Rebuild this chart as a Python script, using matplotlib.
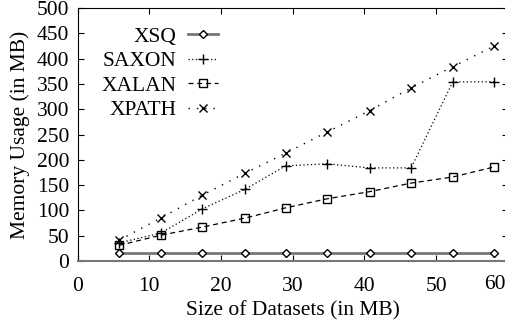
import numpy as np
import matplotlib
matplotlib.use("Agg")
import matplotlib.pyplot as plt

plt.rcParams['font.family'] = ['Liberation Serif', 'DejaVu Serif']
FS = 15.5
plt.rcParams['font.size'] = FS

# dataset sizes (MB)
sizes = [5.8, 11.6, 17.4, 23.4, 29.0, 34.8, 40.7, 46.5, 52.3, 58.1]

xsq = [15, 15, 15, 15, 15, 15, 15, 15, 15, 15]
saxon = [36, 55, 103, 142, 188, 192, 184, 184, 354, 354]
xalan = [31, 51, 67, 85, 105, 123, 137, 154, 166, 186]
xpath = [41, 85, 130, 174, 213, 255, 297, 342, 384, 425]

xticks = [0, 10, 20, 30, 40, 50, 60]
yticks = [0, 50, 100, 150, 200, 250, 300, 350, 400, 450, 500]

fig = plt.figure(figsize=(5.06, 3.23), dpi=100)
# right edge of the frame is just past the picture border, as in the original
ax = fig.add_axes([77.5/506, 62/323, 430.5/506, 253/323])

ax.plot(sizes, xsq, '-', color='#777777', lw=2, marker='D', ms=4,
        mfc='white', mec='black', mew=1, label='XSQ')
ax.plot(sizes, saxon, linestyle=(0, (1, 2)), color='black', lw=0.9,
        marker='+', ms=7, mew=1, label='SAXON')
ax.plot(sizes, xalan, linestyle=(0, (4, 3)), color='black', lw=0.9,
        marker='s', ms=6, mfc='none', mec='black', mew=1, label='XALAN')
ax.plot(sizes, xpath, linestyle=(0, (1, 5)), color='black', lw=1,
        marker='x', ms=6, mew=1, label='XPATH')

ax.set_xlim(0, 60)
ax.set_ylim(0, 500)
ax.set_xticks(xticks)
ax.set_xticklabels([str(t) for t in xticks[:-1]] + [''])
ax.set_yticks(yticks)
ax.tick_params(direction='in', top=True, right=True, length=4, width=0.8,
               labelsize=FS)
ax.tick_params(axis='x', pad=11.5)
ax.tick_params(axis='y', pad=6)
# last label sits a bit left and higher in the original
ax.annotate('60', xy=(60, 0), xycoords='data', xytext=(-9.5, -10),
            textcoords='offset points', ha='center', va='top', fontsize=FS,
            annotation_clip=False)

for s in ['left', 'top', 'right']:
    ax.spines[s].set_linewidth(0.8)
ax.spines['bottom'].set_color('#777777')
ax.spines['bottom'].set_linewidth(1.5)

ax.set_xlabel('Size of Datasets (in MB)', fontsize=FS, labelpad=3.5)
ax.set_ylabel('Memory Usage (in MB)', fontsize=FS, labelpad=5)

ax.legend(loc='upper left', bbox_to_anchor=(0.055, 0.927), frameon=False,
          markerfirst=False, handlelength=1.4, handletextpad=0.55,
          labelspacing=0.21, fontsize=FS, borderaxespad=0, borderpad=0)

fig.savefig('out.png', dpi=100)
